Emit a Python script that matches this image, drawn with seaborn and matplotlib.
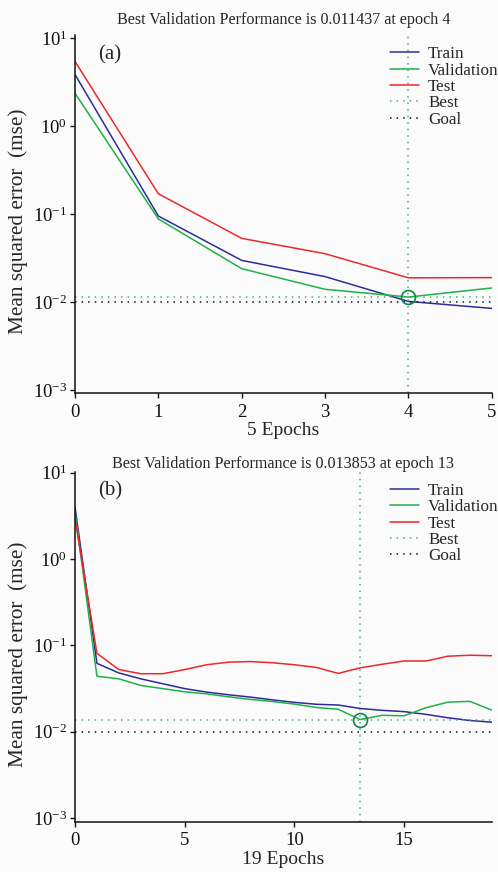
import numpy as np
import matplotlib
matplotlib.use('Agg')
import matplotlib.pyplot as plt
import seaborn as sns
from matplotlib.ticker import LogFormatterSciNotation, FixedLocator

# 训练曲线数据 (a) 5 epochs
epochs_a = [0, 1, 2, 3, 4, 5]
train_a = [3.84, 0.095, 0.0298, 0.0195, 0.0102, 0.0085]
valid_a = [2.35, 0.088, 0.024, 0.014, 0.011437, 0.0145]
test_a = [5.4, 0.17, 0.053, 0.0355, 0.0189, 0.019]
best_a = (4, 0.011437)

# 训练曲线数据 (b) 19 epochs
epochs_b = list(range(20))
train_b = [4.0, 0.062, 0.048, 0.041, 0.036, 0.0316, 0.0288, 0.0268, 0.0252, 0.0234,
           0.0219, 0.0208, 0.0204, 0.0186, 0.0177, 0.0171, 0.0159, 0.0145, 0.0135, 0.0129]
valid_b = [3.5, 0.044, 0.041, 0.0344, 0.0316, 0.029, 0.0275, 0.0254, 0.0237, 0.0224,
           0.0209, 0.0191, 0.0182, 0.013853, 0.0155, 0.0153, 0.019, 0.022, 0.0225, 0.0178]
test_b = [2.95, 0.081, 0.0525, 0.047, 0.047, 0.0525, 0.0597, 0.064, 0.065, 0.063,
          0.0597, 0.0556, 0.0474, 0.055, 0.0605, 0.066, 0.066, 0.075, 0.077, 0.076]
best_b = (13, 0.013853)
goal = 0.01

sns.set_style('ticks')
plt.rcParams['font.family'] = ['Liberation Serif', 'DejaVu Serif']
plt.rcParams['mathtext.fontset'] = 'custom'
plt.rcParams['mathtext.rm'] = 'Liberation Serif'
plt.rcParams['mathtext.it'] = 'Liberation Serif:italic'

C_TRAIN = '#2c2c9c'
C_VALID = '#1fb048'
C_TEST = '#ee2828'
C_BEST = '#4aae72'
C_CIRC = '#14804a'
BG = '#fbfbfb'

fig = plt.figure(figsize=(4.98, 8.72), dpi=100, facecolor=BG)
ax1 = fig.add_axes([0.1506, 0.549, 0.837, 0.411])
ax2 = fig.add_axes([0.1506, 0.0573, 0.837, 0.4017])


def draw_panel(ax, epochs, train, valid, test, best, n_ep, tag, ylim, xticks, tpad):
    ax.set_facecolor(BG)
    sns.lineplot(x=epochs, y=train, ax=ax, color=C_TRAIN, lw=1.1, label='Train')
    sns.lineplot(x=epochs, y=valid, ax=ax, color=C_VALID, lw=1.1, label='Validation')
    sns.lineplot(x=epochs, y=test, ax=ax, color=C_TEST, lw=1.1, label='Test')
    ax.axvline(best[0], color=C_BEST, ls=(0, (1, 3.3)), lw=1.1, label='Best')
    ax.axhline(best[1], color=C_BEST, ls=(0, (1, 3.3)), lw=1.1)
    ax.axhline(goal, color='#111111', ls=(0, (1, 3.3)), lw=1.1, label='Goal')
    ax.plot(best[0], best[1], 'o', mfc='none', mec=C_CIRC, mew=1.2, ms=10)

    ax.set_yscale('log')
    ax.set_ylim(*ylim)
    ax.set_xlim(0, n_ep)
    ax.yaxis.set_major_locator(FixedLocator([1e-3, 1e-2, 1e-1, 1, 10]))
    ax.yaxis.set_major_formatter(LogFormatterSciNotation())
    ax.yaxis.set_minor_locator(FixedLocator([]))
    ax.set_xticks(xticks)
    ax.tick_params(axis='both', labelsize=13.5, length=3.5, width=1.0,
                   direction='out', colors='#111111')
    ax.tick_params(axis='x', pad=4)
    ax.tick_params(axis='y', pad=2)
    for s in ['top', 'right']:
        ax.spines[s].set_visible(False)
    for s in ['left', 'bottom']:
        ax.spines[s].set_linewidth(1.1)
        ax.spines[s].set_color('#111111')

    ax.set_title(f'Best Validation Performance is {best[1]:.6f} at epoch {best[0]}',
                 fontsize=11.6, pad=tpad)
    ax.set_xlabel(f'{n_ep} Epochs', fontsize=14, labelpad=1)
    ax.set_ylabel('Mean squared error  (mse)', fontsize=15.3)
    ax.yaxis.set_label_coords(-0.112, 0.48)
    ax.text(0.055, 0.945, tag, transform=ax.transAxes, fontsize=15, va='center', ha='left')

    ax.legend(loc='upper left', bbox_to_anchor=(0.755, 0.968), frameon=False,
              fontsize=12.3, handlelength=1.7, handletextpad=0.55,
              labelspacing=0.02, borderpad=0, borderaxespad=0)


draw_panel(ax1, epochs_a, train_a, valid_a, test_a, best_a, 5, '(a)',
           (10 ** -3.034, 10 ** 1.034), [0, 1, 2, 3, 4, 5], 8)
draw_panel(ax2, epochs_b, train_b, valid_b, test_b, best_b, 19, '(b)',
           (10 ** -3.046, 10 ** 1.012), [0, 5, 10, 15], 3)

fig.savefig('out.png', dpi=100, facecolor=BG)
plt.close(fig)
